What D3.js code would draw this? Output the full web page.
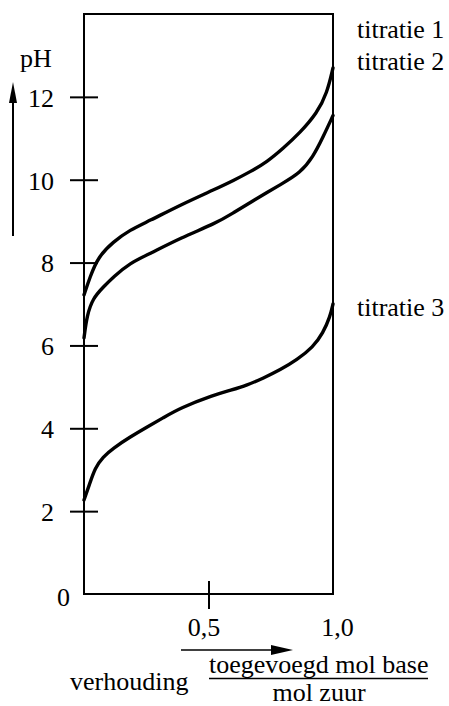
<!DOCTYPE html>
<html>
<head>
<meta charset="utf-8">
<script src="https://cdn.jsdelivr.net/npm/d3@7"></script>
<style>
  body { margin: 0; background: #fff; }
</style>
</head>
<body>
<svg id="chart" width="449" height="706"></svg>
<script>
// verhouding toegevoegd mol base / mol zuur  ->  pH
const ratio1 = [0, 0.024, 0.056, 0.117, 0.185, 0.26, 0.39, 0.53, 0.60, 0.667, 0.735, 0.80, 0.867, 0.936, 0.976, 1.0]
const ph1    = [7.22, 7.65, 8.13, 8.5, 8.79, 9.0, 9.4, 9.78, 9.98, 10.19, 10.43, 10.76, 11.13, 11.61, 12.09, 12.7]

const ratio2 = [0, 0.012, 0.036, 0.076, 0.117, 0.185, 0.26, 0.39, 0.53, 0.60, 0.667, 0.80, 0.867, 0.92, 0.96, 1.0]
const ph2    = [6.18, 6.73, 7.14, 7.4, 7.65, 7.99, 8.2, 8.6, 8.95, 9.2, 9.45, 9.92, 10.16, 10.55, 11.03, 11.55]

const ratio3 = [0, 0.024, 0.044, 0.076, 0.117, 0.185, 0.25, 0.317, 0.386, 0.52, 0.59, 0.655, 0.72, 0.788, 0.855, 0.92, 0.96, 0.988, 1.0]
const ph3    = [2.27, 2.68, 3.04, 3.31, 3.52, 3.79, 4.02, 4.25, 4.49, 4.8, 4.92, 5.04, 5.21, 5.41, 5.65, 5.96, 6.3, 6.69, 7.0]

const seriesNames = ["titratie 1", "titratie 2", "titratie 3"]
const labelPh = [13.42, 12.65, 6.72]   // where the series names sit, in pH units

const yTicks = [0, 2, 4, 6, 8, 10, 12]
const xTicks = [0.5, 1.0]
const xTickLabels = ["0,5", "1,0"]

const svg = d3.select("#chart")

const x = d3.scaleLinear().domain([0, 1]).range([84, 333])
const y = d3.scaleLinear().domain([0, 14]).range([594, 14])

// frame
svg.append("rect")
    .attr("x", x(0)).attr("y", y(14))
    .attr("width", x(1) - x(0)).attr("height", y(0) - y(14))
    .attr("fill", "none").attr("stroke", "#000").attr("stroke-width", 2)

// y axis: ticks cross the frame line
const yAxis = svg.append("g")
    .attr("transform", "translate(" + x(0) + ",0)")
    .call(d3.axisLeft(y).tickValues(yTicks).tickFormat(d => d).tickSizeOuter(0))
yAxis.select(".domain").remove()
yAxis.selectAll(".tick line")
    .attr("x1", -14).attr("x2", 14)
    .attr("stroke", "#000").attr("stroke-width", 2)
    .attr("display", d => d === 0 ? "none" : null)
yAxis.selectAll(".tick text")
    .attr("x", d => d === 0 ? -14 : -30)
    .attr("dy", d => d === 0 ? "0.45em" : "0.36em")
    .attr("fill", "#000")

// x axis: only 0,5 gets a tick mark
const xAxis = svg.append("g")
    .attr("transform", "translate(0," + y(0) + ")")
    .call(d3.axisBottom(x).tickValues(xTicks).tickFormat((d, i) => xTickLabels[i]).tickSizeOuter(0))
xAxis.select(".domain").remove()
xAxis.selectAll(".tick line")
    .attr("y1", -13).attr("y2", 15)
    .attr("stroke", "#000").attr("stroke-width", 2)
    .attr("display", d => d === 1 ? "none" : null)
xAxis.selectAll(".tick text")
    .attr("y", 42).attr("dy", 0)
    .attr("dx", d => d === 1 ? 4 : -5)
    .attr("fill", "#000")

// curves
const line = d3.line()
    .x(d => x(d[0]))
    .y(d => y(d[1]))
    .curve(d3.curveBasis)

const series = [
    d3.zip(ratio1, ph1),
    d3.zip(ratio2, ph2),
    d3.zip(ratio3, ph3),
]

svg.append("g").selectAll("path")
    .data(series)
    .enter().append("path")
    .attr("d", line)
    .attr("fill", "none")
    .attr("stroke", "#000")
    .attr("stroke-width", 3.4)
    .attr("stroke-linecap", "round")

svg.append("g").selectAll("text")
    .data(seriesNames)
    .enter().append("text")
    .attr("x", 357)
    .attr("y", (d, i) => y(labelPh[i]))
    .text(d => d)

// pH label with arrow
svg.append("text").attr("x", 20).attr("y", 67).text("pH")
svg.append("line")
    .attr("x1", 13).attr("x2", 13).attr("y1", 100).attr("y2", 236)
    .attr("stroke", "#000").attr("stroke-width", 2)
svg.append("path")
    .attr("d", "M13,82 L17,103 L9,103 Z")
    .attr("fill", "#000")

// x label with arrow
svg.append("line")
    .attr("x1", 181).attr("x2", 275).attr("y1", 650).attr("y2", 650)
    .attr("stroke", "#000").attr("stroke-width", 1.6)
svg.append("path")
    .attr("d", "M293,650 L271,645 L271,655 Z")
    .attr("fill", "#000")

svg.append("text").attr("x", 70).attr("y", 690).text("verhouding")
svg.append("text").attr("x", 209).attr("y", 673).text("toegevoegd mol base")
svg.append("line")
    .attr("x1", 209).attr("x2", 428).attr("y1", 678.5).attr("y2", 678.5)
    .attr("stroke", "#000").attr("stroke-width", 1.6)
svg.append("text").attr("x", 319).attr("y", 701).attr("text-anchor", "middle").text("mol zuur")

// every text in the same serif face
svg.selectAll("text")
    .attr("font-family", "Liberation Serif")
    .attr("font-size", 26)
</script>
</body>
</html>
